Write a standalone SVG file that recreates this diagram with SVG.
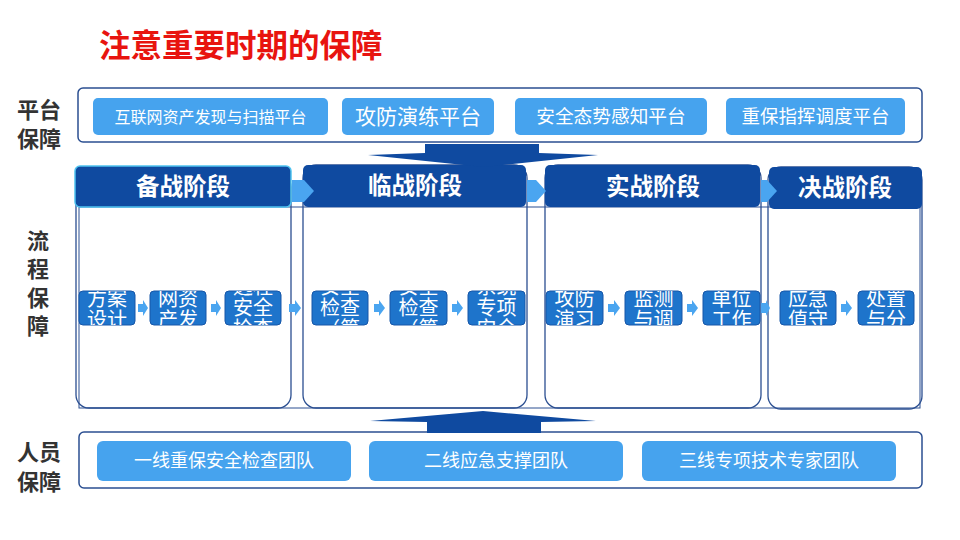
<svg xmlns="http://www.w3.org/2000/svg" width="960" height="540" viewBox="0 0 960 540">
<defs>
<style>
text{font-family:"Noto Sans CJK SC","Noto Sans",sans-serif}
.title{font-size:31.5px;font-weight:bold;fill:#e8140f}
.side{font-size:22px;font-weight:bold;fill:#333333}
.frame{fill:#ffffff;stroke:#2b4f91;stroke-width:1.5}
.btn{fill:#46a3ee}
.btxt{font-size:18px;fill:#ffffff;text-anchor:middle}
.col{fill:none;stroke:#2b4f91;stroke-width:1.3}
.hdr{fill:#0f4aa0}
.htxt{font-size:23.5px;font-weight:bold;fill:#ffffff;text-anchor:middle}
.step{fill:#1e74cb;stroke:#1656a8;stroke-width:1}
.stxt{font-size:20px;fill:#ffffff;text-anchor:middle}
.larr{fill:#4aa5f0}
.big{fill:#0f4aa0}
</style>
<clipPath id="c1"><rect x="79" y="291" width="56" height="34" rx="4"/></clipPath>
<clipPath id="c2"><rect x="150" y="291" width="56" height="34" rx="4"/></clipPath>
<clipPath id="c3"><rect x="225" y="291" width="56" height="34" rx="4"/></clipPath>
<clipPath id="c4"><rect x="312" y="291" width="56" height="34" rx="4"/></clipPath>
<clipPath id="c5"><rect x="390" y="291" width="57" height="34" rx="4"/></clipPath>
<clipPath id="c6"><rect x="468" y="291" width="57" height="34" rx="4"/></clipPath>
<clipPath id="c7"><rect x="546" y="291" width="57" height="34" rx="4"/></clipPath>
<clipPath id="c8"><rect x="625" y="291" width="57" height="34" rx="4"/></clipPath>
<clipPath id="c9"><rect x="703" y="291" width="57" height="34" rx="4"/></clipPath>
<clipPath id="c10"><rect x="780" y="291" width="56" height="34" rx="4"/></clipPath>
<clipPath id="c11"><rect x="858" y="291" width="56" height="34" rx="4"/></clipPath>
</defs>
<rect width="960" height="540" fill="#ffffff"/>
<text class="title" x="99" y="57">注意重要时期的保障</text>

<g id="label-platform"><text class="side" x="17" y="118">平台<tspan x="17" dy="29">保障</tspan></text></g>
<g id="label-process"><text class="side" x="27" y="249">流<tspan x="27" dy="28">程</tspan><tspan x="27" dy="29">保</tspan><tspan x="27" dy="28">障</tspan></text></g>
<g id="label-people"><text class="side" x="17" y="460">人员<tspan x="17" dy="30">保障</tspan></text></g>

<g id="platform">
<rect class="frame" x="78" y="88" width="844" height="54" rx="5"/>
<rect class="btn" x="93" y="98" width="235" height="37" rx="5"/><text class="btxt" x="210.5" y="122.5" style="font-size:16px">互联网资产发现与扫描平台</text>
<rect class="btn" x="342" y="98" width="152" height="37" rx="5"/><text class="btxt" x="418" y="124" style="font-size:21px">攻防演练平台</text>
<rect class="btn" x="515" y="98" width="192" height="37" rx="5"/><text class="btxt" x="611" y="123" style="font-size:18.7px">安全态势感知平台</text>
<rect class="btn" x="726" y="98" width="179" height="37" rx="5"/><text class="btxt" x="815.5" y="123" style="font-size:18.5px">重保指挥调度平台</text>
</g>

<g id="columns">
<rect class="col" x="76" y="174" width="215" height="234" rx="13"/>
<rect class="col" x="303" y="165" width="224" height="243" rx="13"/>
<rect class="col" x="545" y="165" width="216" height="243" rx="13"/>
<rect class="col" x="768" y="167" width="154" height="242" rx="13"/>
<rect fill="none" stroke="#2b4f91" stroke-width="1" x="79" y="207" width="841" height="201"/>
</g>

<g id="phase1"><rect class="hdr" x="75" y="166" width="216" height="41" rx="5" stroke="#4fc3f0" stroke-width="1.5"/><text class="htxt" x="183" y="195">备战阶段</text></g>
<g id="phase2"><rect class="hdr" x="303" y="165" width="223" height="42" rx="5"/><text class="htxt" x="415" y="194">临战阶段</text></g>
<g id="phase3"><rect class="hdr" x="545" y="165" width="215" height="42" rx="5"/><text class="htxt" x="653" y="195">实战阶段</text></g>
<g id="phase4"><rect class="hdr" x="769" y="167" width="153" height="42" rx="5"/><text class="htxt" x="845" y="196">决战阶段</text></g>

<g id="s1"><rect class="step" x="79" y="291" width="56" height="34" rx="4"/><g clip-path="url(#c1)"><text class="stxt" x="107" y="306">方案<tspan x="107" dy="21">设计</tspan></text></g></g>
<g id="s2"><rect class="step" x="150" y="291" width="56" height="34" rx="4"/><g clip-path="url(#c2)"><text class="stxt" x="178" y="306">网资<tspan x="178" dy="21">产发</tspan></text></g></g>
<g id="s3"><rect class="step" x="225" y="291" width="56" height="34" rx="4"/><g clip-path="url(#c3)"><text class="stxt" x="253" y="294">远程<tspan x="253" dy="21">安全</tspan><tspan x="253" dy="21">检查</tspan></text></g></g>
<g id="s4"><rect class="step" x="312" y="291" width="56" height="34" rx="4"/><g clip-path="url(#c4)"><text class="stxt" x="340" y="294">安全<tspan x="340" dy="21">检查</tspan><tspan x="340" dy="21">（第</tspan></text></g></g>
<g id="s5"><rect class="step" x="390" y="291" width="57" height="34" rx="4"/><g clip-path="url(#c5)"><text class="stxt" x="418.5" y="294">安全<tspan x="418.5" dy="21">检查</tspan><tspan x="418.5" dy="21">（第</tspan></text></g></g>
<g id="s6"><rect class="step" x="468" y="291" width="57" height="34" rx="4"/><g clip-path="url(#c6)"><text class="stxt" x="496.5" y="294">系统<tspan x="496.5" dy="21">专项</tspan><tspan x="496.5" dy="21">安全</tspan></text></g></g>
<g id="s7"><rect class="step" x="546" y="291" width="57" height="34" rx="4"/><g clip-path="url(#c7)"><text class="stxt" x="574.5" y="306">攻防<tspan x="574.5" dy="21">演习</tspan></text></g></g>
<g id="s8"><rect class="step" x="625" y="291" width="57" height="34" rx="4"/><g clip-path="url(#c8)"><text class="stxt" x="653.5" y="306">监测<tspan x="653.5" dy="21">与调</tspan></text></g></g>
<g id="s9"><rect class="step" x="703" y="291" width="57" height="34" rx="4"/><g clip-path="url(#c9)"><text class="stxt" x="731.5" y="306">单位<tspan x="731.5" dy="21">工作</tspan></text></g></g>
<g id="s10"><rect class="step" x="780" y="291" width="56" height="34" rx="4"/><g clip-path="url(#c10)"><text class="stxt" x="808" y="306">应急<tspan x="808" dy="21">值守</tspan></text></g></g>
<g id="s11"><rect class="step" x="858" y="291" width="56" height="34" rx="4"/><g clip-path="url(#c11)"><text class="stxt" x="886" y="306">处置<tspan x="886" dy="21">与分</tspan></text></g></g>

<g id="people">
<rect class="frame" x="79" y="432" width="843" height="56" rx="5"/>
<rect class="btn" x="97" y="441" width="254" height="40" rx="6"/><text class="btxt" x="224" y="467">一线重保安全检查团队</text>
<rect class="btn" x="369" y="441" width="254" height="40" rx="6"/><text class="btxt" x="496" y="467">二线应急支撑团队</text>
<rect class="btn" x="642" y="441" width="254" height="40" rx="6"/><text class="btxt" x="769" y="467">三线专项技术专家团队</text>
</g>

<g id="connectors">
<polygon class="big" points="425,144 539,144 539,153 598,155 483,167 368,155 425,153"/>
<polygon class="big" points="483,411 596,421 541,422 541,433 427,433 427,422 370,421"/>
<polygon class="larr" points="292,180 304,180 314,191 304,202 292,202"/>
<polygon class="larr" points="527,180 536,180 546,191 536,202 527,202"/>
<polygon class="larr" points="761,180 767,180 777,191 767,202 761,202"/>
<polygon class="larr" points="138,304 143,304 143,300 148,308 143,316 143,312 138,312"/>
<polygon class="larr" points="211,304 216,304 216,300 221,308 216,316 216,312 211,312"/>
<polygon class="larr" points="289,304 295,304 295,300 301,308 295,316 295,312 289,312"/>
<polygon class="larr" points="374,304 379,304 379,300 385,308 379,316 379,312 374,312"/>
<polygon class="larr" points="452,304 457,304 457,300 463,308 457,316 457,312 452,312"/>
<polygon class="larr" points="608,304 614,304 614,300 620,308 614,316 614,312 608,312"/>
<polygon class="larr" points="687,304 692,304 692,300 698,308 692,316 692,312 687,312"/>
<polygon class="larr" points="761,303 766,303 766,300 770,308 766,316 766,313 761,313"/>
<polygon class="larr" points="841,304 846,304 846,300 852,308 846,316 846,312 841,312"/>
</g>
</svg>
